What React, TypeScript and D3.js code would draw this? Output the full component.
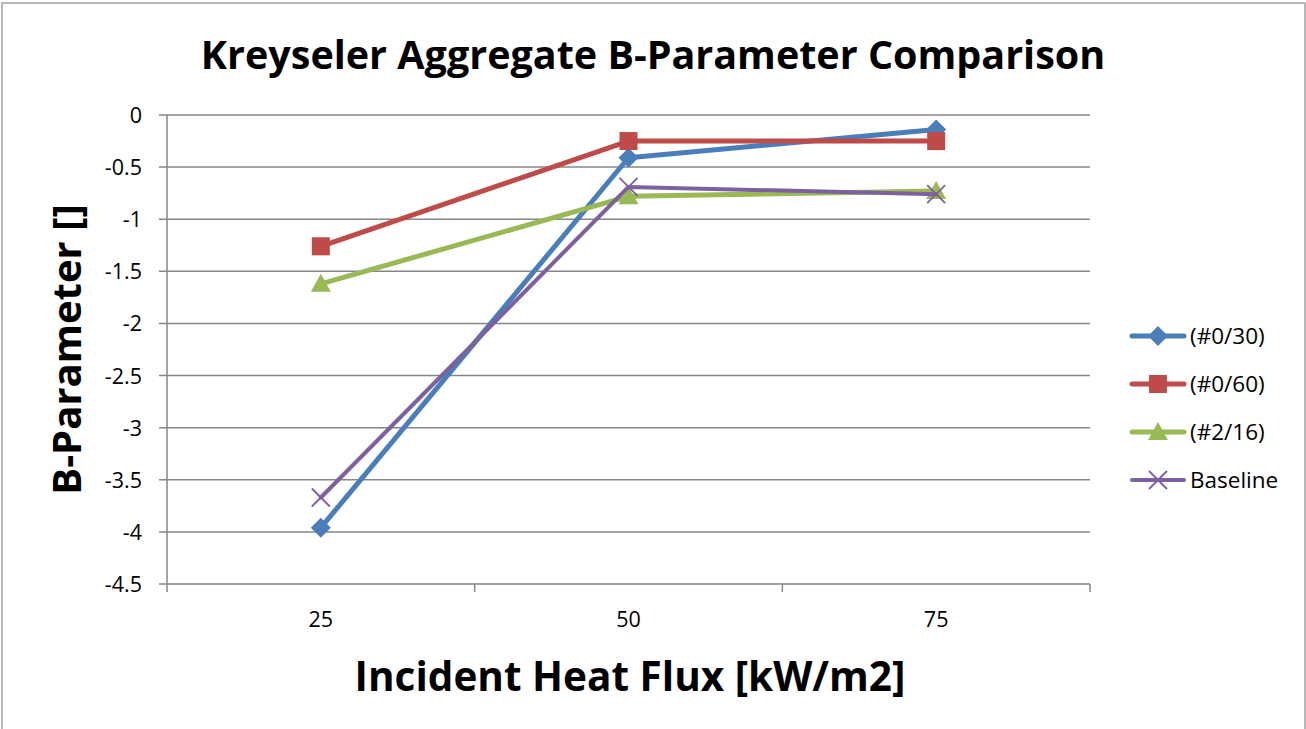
import * as d3 from 'd3';

const categories = ['25', '50', '75'];
const yTicks = [0, -0.5, -1, -1.5, -2, -2.5, -3, -3.5, -4, -4.5];

const seriesNames = ['(#0/30)', '(#0/60)', '(#2/16)', 'Baseline'];
const s030 = [-3.96, -0.41, -0.14];
const s060 = [-1.26, -0.25, -0.25];
const s216 = [-1.62, -0.78, -0.73];
const baseline = [-3.67, -0.69, -0.76];

const colors = ['#4a7ebb', '#be4b48', '#98b954', '#7d60a0'];
const markers = ['diamond', 'square', 'triangle', 'cross'];

const W = 1306;
const H = 729;
const margin = { left: 167, right: 216, top: 115, bottom: 145 };
const font = '"Open Sans", Lato, sans-serif';

function Marker({ kind, x, y, color }: { kind: string; x: number; y: number; color: string }) {
  if (kind === 'diamond') {
    const r = 10;
    return <path d={`M${x},${y - r}L${x + r},${y}L${x},${y + r}L${x - r},${y}Z`} fill={color} />;
  }
  if (kind === 'square') {
    return <rect x={x - 9} y={y - 9} width={18} height={18} fill={color} />;
  }
  if (kind === 'triangle') {
    return <path d={`M${x},${y - 10}L${x + 10},${y + 8}L${x - 10},${y + 8}Z`} fill={color} />;
  }
  return (
    <path
      d={`M${x - 9},${y - 9}L${x + 9},${y + 9}M${x - 9},${y + 9}L${x + 9},${y - 9}`}
      stroke={color}
      strokeWidth={1.8}
      fill="none"
    />
  );
}

export default function App() {
  const series = [s030, s060, s216, baseline];
  const x = d3.scaleBand().domain(categories).range([margin.left, W - margin.right]);
  const y = d3.scaleLinear().domain([-4.5, 0]).range([H - margin.bottom, margin.top]);
  const xc = (c: string) => (x(c) ?? 0) + x.bandwidth() / 2;
  const line = d3
    .line<number>()
    .x((_, i) => xc(categories[i]))
    .y((d) => y(d));

  const x0 = margin.left;
  const x1 = W - margin.right;
  const yBottom = y(-4.5);
  const bounds = categories.map((c) => x(c) ?? 0).concat([x1]);

  return (
    <svg width={W} height={H} style={{ position: 'absolute', left: 0, top: 0 }} fontFamily={font}>
      <rect x={0} y={0} width={W} height={H} fill="#fff" />
      {/* outer chart frame */}
      <rect x={2} y={3} width={W - 3} height={H + 10} fill="none" stroke="#a0a0a0" strokeWidth={1.5} />

      <text x={653} y={69} textAnchor="middle" fontSize={39.5} fontWeight="bold" fill="#000">
        Kreyseler Aggregate B-Parameter Comparison
      </text>

      {/* gridlines + y labels */}
      {yTicks.map((t) => (
        <g key={t}>
          <line x1={x0 - 8} x2={x1} y1={y(t)} y2={y(t)} stroke="#868686" strokeWidth={1.5} />
          <text x={142} y={y(t) + 8} textAnchor="end" fontSize={21.5} fill="#000">
            {t}
          </text>
        </g>
      ))}
      {/* y axis */}
      <line x1={x0} x2={x0} y1={margin.top} y2={yBottom} stroke="#868686" strokeWidth={1.5} />
      {/* x ticks */}
      {bounds.map((b, i) => (
        <line key={i} x1={b} x2={b} y1={yBottom} y2={yBottom + 8} stroke="#868686" strokeWidth={1.5} />
      ))}
      {categories.map((c) => (
        <text key={c} x={xc(c)} y={627} textAnchor="middle" fontSize={21.5} fill="#000">
          {c}
        </text>
      ))}

      <text
        transform={`translate(81,${(margin.top + yBottom) / 2}) rotate(-90)`}
        textAnchor="middle"
        fontSize={40}
        fontWeight="bold"
        fill="#000"
      >
        B-Parameter []
      </text>
      <text x={630} y={691} textAnchor="middle" fontSize={40.5} fontWeight="bold" fill="#000">
        Incident Heat Flux [kW/m2]
      </text>

      {/* series */}
      {series.map((s, si) => (
        <g key={seriesNames[si]}>
          <path
            d={line(s) ?? ''}
            fill="none"
            stroke={colors[si]}
            strokeWidth={si === 3 ? 4 : 5}
            strokeLinejoin="round"
            strokeLinecap="round"
          />
          {s.map((v, i) => (
            <Marker key={i} kind={markers[si]} x={xc(categories[i])} y={y(v)} color={colors[si]} />
          ))}
        </g>
      ))}

      {/* legend */}
      {seriesNames.map((n, i) => {
        const ly = 336 + i * 48;
        return (
          <g key={n}>
            <line x1={1132} x2={1184} y1={ly} y2={ly} stroke={colors[i]} strokeWidth={i === 3 ? 4 : 5} strokeLinecap="round" />
            <Marker kind={markers[i]} x={1158} y={ly} color={colors[i]} />
            <text x={1190} y={ly + 8} fontSize={22.5} fill="#000">
              {n}
            </text>
          </g>
        );
      })}
    </svg>
  );
}
